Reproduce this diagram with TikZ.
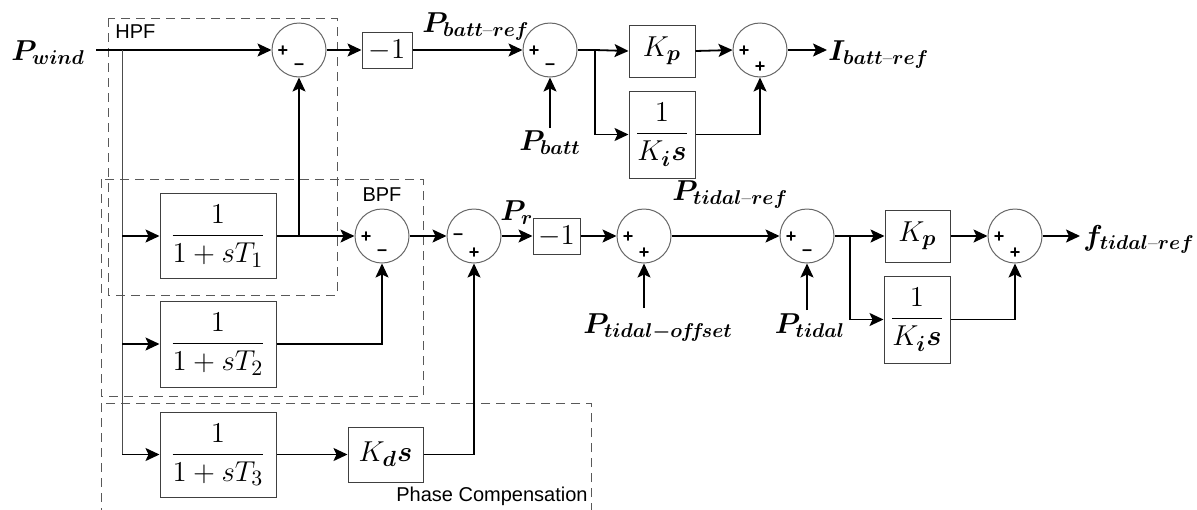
\documentclass[tikz,border=0pt]{standalone}
\usepackage{amsmath}
\usepackage{fontspec}
\newfontfamily\labfont{Liberation Sans}
\usetikzlibrary{arrows.meta,calc}
\newcommand\bsub[1]{\boldsymbol{#1}}
\newcommand\dsh{\text{--}}
\begin{document}
\begin{tikzpicture}[x=0.5pt,y=-0.5pt,
  blk/.style={draw=black!75,line width=0.5pt,inner sep=0pt,font=\fontsize{15}{18}\selectfont},
  sumc/.style={circle,draw=black!60,line width=0.5pt,minimum size=27pt,inner sep=0pt},
  sig/.style={-{Stealth[length=7pt,width=6.5pt,inset=1.5pt]},line width=0.9pt},
  wire/.style={line width=0.9pt},
  thinwire/.style={line width=0.5pt,draw=black!70},
  dbox/.style={draw=black!65,line width=0.5pt,dash pattern=on 4.5pt off 3pt},
  lbl/.style={font=\boldmath\fontsize{13.8}{16}\selectfont,inner sep=0pt},
  sgn/.style={font=\labfont\bfseries\fontsize{9}{10}\selectfont,inner sep=0pt},
  tag/.style={font=\labfont\fontsize{10}{12}\selectfont,inner sep=0pt}]
\useasboundingbox (0,0) rectangle (1197,509);
\newcommand\mksum[5]{%
  \node[sumc] (#1) at (#2,#3) {};
  \node[sgn] (#1-l) at ($(#1.center)+(-16,1)$) {#4};
  \node[sgn] (#1-b) at ($(#1.center)+(0,17)$) {#5};}
% dashed groups
\draw[dbox] (108,18) rectangle (337,295);
\draw[dbox] (101,179) rectangle (423,396);
\draw[dbox] (101,403) rectangle (591,520);
\node[tag,anchor=west] (hpf) at (115,32) {HPF};
\node[tag] (bpf) at (382,195) {BPF};
\node[tag,anchor=east] (phc) at (588,496) {Phase Compensation};
% summing junctions
\mksum{S1}{299}{50}{+}{\textendash}
\mksum{S2}{550}{50}{+}{\textendash}
\mksum{S3}{760}{50}{+}{+}
\mksum{Sb}{382}{236}{+}{\textendash}
\mksum{Sr}{474}{236}{\textendash}{+}
\mksum{So}{644}{236}{+}{+}
\mksum{St}{807}{236}{+}{\textendash}
\mksum{Sf}{1015}{236}{+}{+}
% blocks
\node[blk,minimum width=58pt,minimum height=42.5pt] (T1) at (218,236) {$\displaystyle\frac{1}{1+sT_1}$};
\node[blk,minimum width=58pt,minimum height=43pt] (T2) at (218,344) {$\displaystyle\frac{1}{1+sT_2}$};
\node[blk,minimum width=58pt,minimum height=42.5pt] (T3) at (218,454.5) {$\displaystyle\frac{1}{1+sT_3}$};
\node[blk,minimum width=37.5pt,minimum height=27.5pt] (Kd) at (385.5,454.5) {$K_{\bsub{d}}\bsub{s}$};
\node[blk,minimum width=25pt,minimum height=18pt] (m1) at (387,50) {$-1$};
\node[blk,minimum width=23.5pt,minimum height=18pt] (m2) at (556.5,236) {$-1$};
\node[blk,minimum width=33pt,minimum height=26pt] (Kp1) at (662,51) {$K_{\bsub{p}}$};
\node[blk,minimum width=33pt,minimum height=43.5pt] (Ki1) at (662,134.5) {$\displaystyle\frac{1}{K_{\bsub{i}}\bsub{s}}$};
\node[blk,minimum width=32.5pt,minimum height=26pt] (Kp2) at (917.5,236) {$K_{\bsub{p}}$};
\node[blk,minimum width=33pt,minimum height=43.5pt] (Ki2) at (917,319.5) {$\displaystyle\frac{1}{K_{\bsub{i}}\bsub{s}}$};
% labels
\node[lbl,anchor=base west] (Pw) at (11,60) {$P_{wind}$};
\node[lbl,anchor=base west] (Pbr) at (422,32) {$P_{batt\dsh ref}$};
\node[lbl,anchor=base] (Pb) at (550,150) {$P_{batt}$};
\node[lbl,anchor=base west] (Ibr) at (828,60) {$I_{batt\dsh ref}$};
\node[lbl,anchor=base west] (Pr) at (500,220) {$P_{r}$};
\node[lbl,anchor=base west] (Ptr) at (672,200) {$P_{tidal\dsh ref}$};
\node[lbl,anchor=base] (Pto) at (658,333) {$P_{tidal-o\mkern-1mu f\mkern-3mu f\mkern-2mu set}$};
\node[lbl,anchor=base] (Pt) at (810,333) {$P_{tidal}$};
\node[lbl,anchor=base west] (ftr) at (1083,245) {$f_{tidal\dsh ref}$};
% coordinates
\coordinate (win) at (96,50);
\coordinate (b0) at (122,50);
\coordinate (b0e) at (122,454.5);
\coordinate (b1) at (595,50);
\coordinate (b2) at (850,236);
\coordinate (Iout) at (827,50);
\coordinate (fout) at (1080,236);
\coordinate (Pbin) at (550,128);
\coordinate (Ptoin) at (644,308);
\coordinate (Ptin) at (807,310);
% top row
\draw[sig] (win) -- (S1.west);
\draw[thinwire] (b0) -- (b0e);
\draw[sig] (S1.east) -- (m1.west);
\draw[sig] (m1.east) -- (S2.west);
\draw[wire] (S2.east) -- (b1);
\draw[sig] (b1) -- (Kp1.west);
\draw[sig] (b1) |- (Ki1.west);
\draw[sig] (Kp1.east) -- (S3.west);
\draw[sig] (Ki1.east) -| (S3.south);
\draw[sig] (S3.east) -- (Iout);
\draw[sig] (Pbin) -- (S2.south);
% filter branches
\draw[sig] (b0 |- T1.west) -- (T1.west);
\draw[sig] (b0 |- T2.west) -- (T2.west);
\draw[sig] (b0e) -- (T3.west);
\draw[sig] (T1.east) -- (Sb.west);
\draw[sig] (T1.east -| S1.south) -- (S1.south);
\draw[sig] (T2.east) -| (Sb.south);
\draw[sig] (T3.east) -- (Kd.west);
\draw[sig] (Kd.east) -| (Sr.south);
% middle row
\draw[sig] (Sb.east) -- (Sr.west);
\draw[sig] (Sr.east) -- (m2.west);
\draw[sig] (m2.east) -- (So.west);
\draw[sig] (So.east) -- (St.west);
\draw[sig] (Ptoin) -- (So.south);
\draw[sig] (Ptin) -- (St.south);
\draw[wire] (St.east) -- (b2);
\draw[sig] (b2) -- (Kp2.west);
\draw[sig] (b2) |- (Ki2.west);
\draw[sig] (Kp2.east) -- (Sf.west);
\draw[sig] (Ki2.east) -| (Sf.south);
\draw[sig] (Sf.east) -- (fout);
\end{tikzpicture}
\end{document}
